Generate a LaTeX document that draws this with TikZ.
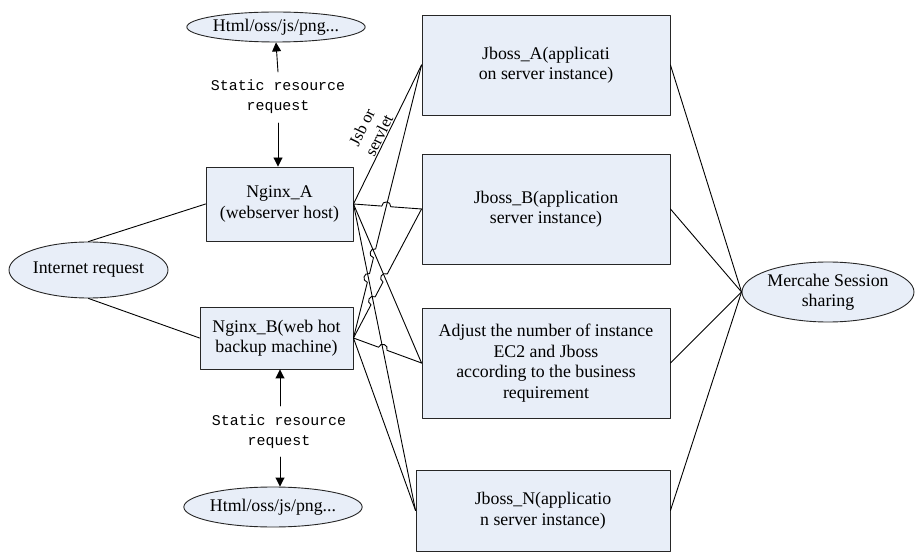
\documentclass[tikz,border=0pt]{standalone}
\usepackage{fontspec}
\setmainfont{Liberation Serif}
\setmonofont{Liberation Mono}
\usetikzlibrary{shapes.geometric,calc,intersections,arrows.meta}
\definecolor{boxfill}{RGB}{232,238,248}
\tikzset{
  srvbox/.style={draw=black!85, fill=boxfill, align=center, inner sep=0pt},
  oval/.style={ellipse, draw=black!85, fill=boxfill, align=center, inner sep=0pt},
  reqlabel/.style={font=\ttfamily\fontsize{14.9}{20}\selectfont, align=center, inner sep=0pt},
}
% a small jump where a line passes over another one
\newcommand{\pathhop}[2]{-- ($(#1)!4.5pt!(#2)$) to[bend left=90, looseness=1.7] ($(#1)!-4.5pt!(#2)$)}
\begin{document}
\begin{tikzpicture}[x=1pt, y=-1pt, >={Triangle[length=9pt,width=9pt]}, font=\fontsize{17.8}{20.5}\selectfont, line width=0.9pt, line join=round, line cap=round]
			\useasboundingbox (0,0) rectangle (916,553);
			% left column
			\node[oval, minimum width=148pt, minimum height=30pt] (htmlT) at (276,27) {Html/oss/js/png...};
			\node[reqlabel] (stT) at (278,97) {Static resource\\request};
			\node[srvbox, minimum width=147pt, minimum height=74pt] (nA) at (279.5,204) {Nginx\_A\\(webserver host)};
			\node[oval, minimum width=159pt, minimum height=56pt] (net) at (88.5,270) {Internet request};
			\node[srvbox, minimum width=153pt, minimum height=62pt] (nB) at (276.5,338) {Nginx\_B(web hot\\backup machine)};
			\node[reqlabel] (stB) at (279,431.5) {Static resource\\request};
			\node[oval, minimum width=149pt, minimum height=40pt] (htmlB) at (273,507) {Html/oss/js/png...};
			% application servers
			\node[srvbox, minimum width=248pt, minimum height=100pt] (jA) at (546,65) {Jboss\_A(applicati\\on server instance)};
			\node[srvbox, minimum width=248pt, minimum height=110pt] (jB) at (546,209) {Jboss\_B(application\\server instance)};
			\node[srvbox, minimum width=248pt, minimum height=110pt] (aD) at (546,363) {Adjust the number of instance\\EC2 and Jboss\\according to the business\\requirement};
			\node[srvbox, minimum width=254pt, minimum height=81pt] (jN) at (543,510.5) {Jboss\_N(applicatio\\n server instance)};
			\node[oval, minimum width=172pt, minimum height=60pt] (mem) at (828,292) {Mercahe Session\\sharing};
			\path
			(278,72) coordinate (aT1)
			(278,123) coordinate (aT2)
			(280,406) coordinate (aB1)
			(280,457) coordinate (aB2)
			;
			% static resource requests
			\draw[->] (aT1) -- (htmlT.south);
			\draw[->] (aT2) -- (aT2 |- nA.north);
			\draw[->] (aB1) -- (aB1 |- nB.south);
			\draw[->] (aB2) -- (aB2 |- htmlB.north);
			\draw (net.north) -- (nA.west);
			\draw (net.south) -- (nB.west);
			% crossings
			\path[name path=pAB] (nA.east) -- (jB.west);
			\path[name path=pAD] (nA.east) -- (aD.west);
			\path[name path=pAN] (nA.east) -- (jN.west);
			\path[name path=pBA] (nB.east) -- (jA.west);
			\path[name path=pBB] (nB.east) -- (jB.west);
			\path[name path=pBD] (nB.east) -- (aD.west);
			\path[name intersections={of=pBA and pAB, by=c1}];
			\path[name intersections={of=pBA and pAD, by=c2}];
			\path[name intersections={of=pBA and pAN, by=c3}];
			\path[name intersections={of=pBB and pAD, by=c4}];
			\path[name intersections={of=pBB and pAN, by=c5}];
			\path[name intersections={of=pBD and pAN, by=c6}];
			% web servers to application servers
			\draw (nA.east) -- node[sloped, above, align=center, font=\fontsize{16.5}{19}\selectfont, inner sep=1pt, pos=0.47] {Jsb or\\servlet} (jA.west);
			\draw (nA.east) \pathhop{c1}{nA.east} -- (jB.west);
			\draw (nA.east) -- (aD.west);
			\draw (nA.east) -- (jN.west);
			\draw (nB.east) \pathhop{c3}{nB.east} \pathhop{c2}{nB.east} -- (jA.west);
			\draw (nB.east) \pathhop{c5}{nB.east} \pathhop{c4}{nB.east} -- (jB.west);
			\draw (nB.east) \pathhop{c6}{nB.east} -- (aD.west);
			\draw (nB.east) -- (jN.west);
			% session sharing
			\foreach \s in {jA,jB,aD,jN}
			\draw (\s.east) -- (mem.west);
		\end{tikzpicture}
\end{document}
